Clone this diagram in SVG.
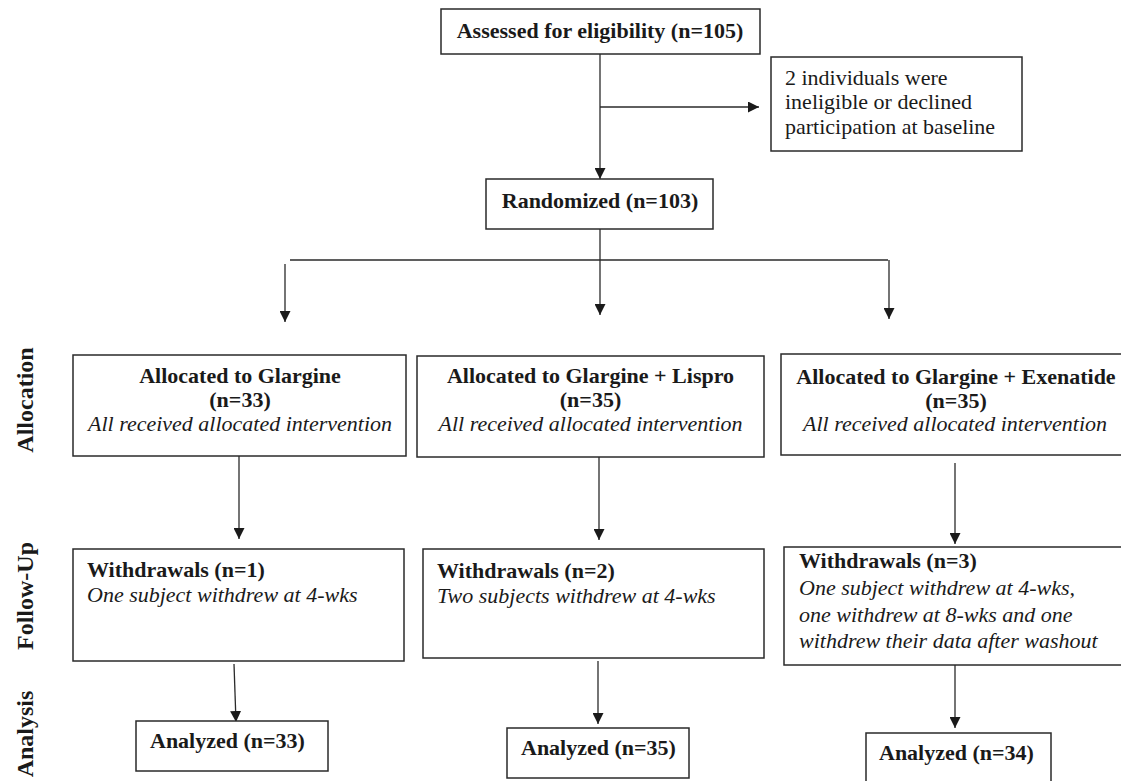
<svg xmlns="http://www.w3.org/2000/svg" width="1121" height="781" viewBox="0 0 1121 781">
<style>
.box{fill:#fff;stroke:#2a2a2a;stroke-width:1.5}
.b{font-family:"Liberation Serif","Times New Roman",serif;font-size:22px;font-weight:bold;fill:#1a1a1a}
.r{font-family:"Liberation Serif","Times New Roman",serif;font-size:22px;fill:#1a1a1a}
.i{font-family:"Liberation Serif","Times New Roman",serif;font-size:22px;font-style:italic;fill:#1a1a1a}
.lab{font-family:"Liberation Serif","Times New Roman",serif;font-size:24px;font-weight:bold;fill:#1a1a1a}
.c{text-anchor:middle}
.ln{stroke:#2a2a2a;stroke-width:1.3;fill:none}
.ar{stroke:#2a2a2a;stroke-width:1.3;fill:none;marker-end:url(#ah)}
</style>
<defs>
<marker id="ah" viewBox="0 0 10 10" refX="10" refY="5" markerWidth="11" markerHeight="11" markerUnits="userSpaceOnUse" orient="auto">
<path d="M0,0 L10,5 L0,10 z" fill="#1a1a1a"/>
</marker>
</defs>
<rect width="1121" height="781" fill="#fff"/>

<g id="labels">
<text class="lab c" transform="translate(33,400) rotate(-90)">Allocation</text>
<text class="lab c" transform="translate(33,596) rotate(-90)">Follow-Up</text>
<text class="lab c" transform="translate(33,734) rotate(-90)">Analysis</text>
</g>

<g id="connectors">
<line class="ar" x1="600" y1="54" x2="600" y2="179"/>
<line class="ar" x1="600" y1="107" x2="759" y2="107"/>
<line class="ln" x1="600" y1="229" x2="600" y2="260"/>
<line class="ln" x1="290" y1="260" x2="888" y2="260"/>
<line class="ar" x1="285" y1="264" x2="285" y2="322"/>
<line class="ar" x1="600" y1="260" x2="600" y2="315"/>
<line class="ar" x1="889" y1="260" x2="889" y2="319"/>
<line class="ar" x1="239" y1="456" x2="239" y2="539"/>
<line class="ar" x1="599" y1="457" x2="599" y2="540"/>
<line class="ar" x1="955" y1="463" x2="955" y2="544"/>
<line class="ar" x1="234" y1="664" x2="236" y2="722"/>
<line class="ar" x1="598" y1="661" x2="598" y2="724"/>
<line class="ar" x1="955" y1="665" x2="955" y2="728"/>
</g>

<g id="assessed">
<rect class="box" x="441" y="9" width="319" height="45"/>
<text class="b c" x="600" y="38">Assessed for eligibility (n=105)</text>
</g>

<g id="excluded">
<rect class="box" x="771" y="57" width="251" height="94"/>
<text class="r" x="785" y="85">2 individuals were</text>
<text class="r" x="785" y="109">ineligible or declined</text>
<text class="r" x="785" y="134">participation at baseline</text>
</g>

<g id="randomized">
<rect class="box" x="486" y="179" width="227" height="50"/>
<text class="b c" x="600" y="208">Randomized (n=103)</text>
</g>

<g id="alloc1">
<rect class="box" x="73" y="355" width="333" height="101"/>
<text class="b c" x="240" y="383">Allocated to Glargine</text>
<text class="b c" x="240" y="407">(n=33)</text>
<text class="i c" x="240" y="431">All received allocated intervention</text>
</g>

<g id="alloc2">
<rect class="box" x="417" y="356" width="347" height="101"/>
<text class="b c" x="590.5" y="383">Allocated to Glargine + Lispro</text>
<text class="b c" x="590.5" y="407">(n=35)</text>
<text class="i c" x="590.5" y="431">All received allocated intervention</text>
</g>

<g id="alloc3">
<rect class="box" x="781" y="354" width="350" height="101"/>
<text class="b c" x="956" y="384">Allocated to Glargine + Exenatide</text>
<text class="b c" x="956" y="408">(n=35)</text>
<text class="i c" x="955" y="431">All received allocated intervention</text>
</g>

<g id="follow1">
<rect class="box" x="73" y="549" width="331" height="112"/>
<text class="b" x="87" y="577">Withdrawals (n=1)</text>
<text class="i" x="87" y="602">One subject withdrew at 4-wks</text>
</g>

<g id="follow2">
<rect class="box" x="423" y="549" width="341" height="109"/>
<text class="b" x="437" y="578">Withdrawals (n=2)</text>
<text class="i" x="437" y="603">Two subjects withdrew at 4-wks</text>
</g>

<g id="follow3">
<rect class="box" x="784" y="547" width="350" height="118"/>
<text class="b" x="799" y="568">Withdrawals (n=3)</text>
<text class="i" x="799" y="595">One subject withdrew at 4-wks,</text>
<text class="i" x="799" y="622">one withdrew at 8-wks and one</text>
<text class="i" x="799" y="648">withdrew their data after washout</text>
</g>

<g id="analyzed1">
<rect class="box" x="136" y="721" width="192" height="50"/>
<text class="b" x="150" y="748">Analyzed (n=33)</text>
</g>

<g id="analyzed2">
<rect class="box" x="507" y="728" width="182" height="50"/>
<text class="b" x="521" y="755">Analyzed (n=35)</text>
</g>

<g id="analyzed3">
<rect class="box" x="866" y="733" width="185" height="60"/>
<text class="b" x="879" y="760">Analyzed (n=34)</text>
</g>
</svg>
